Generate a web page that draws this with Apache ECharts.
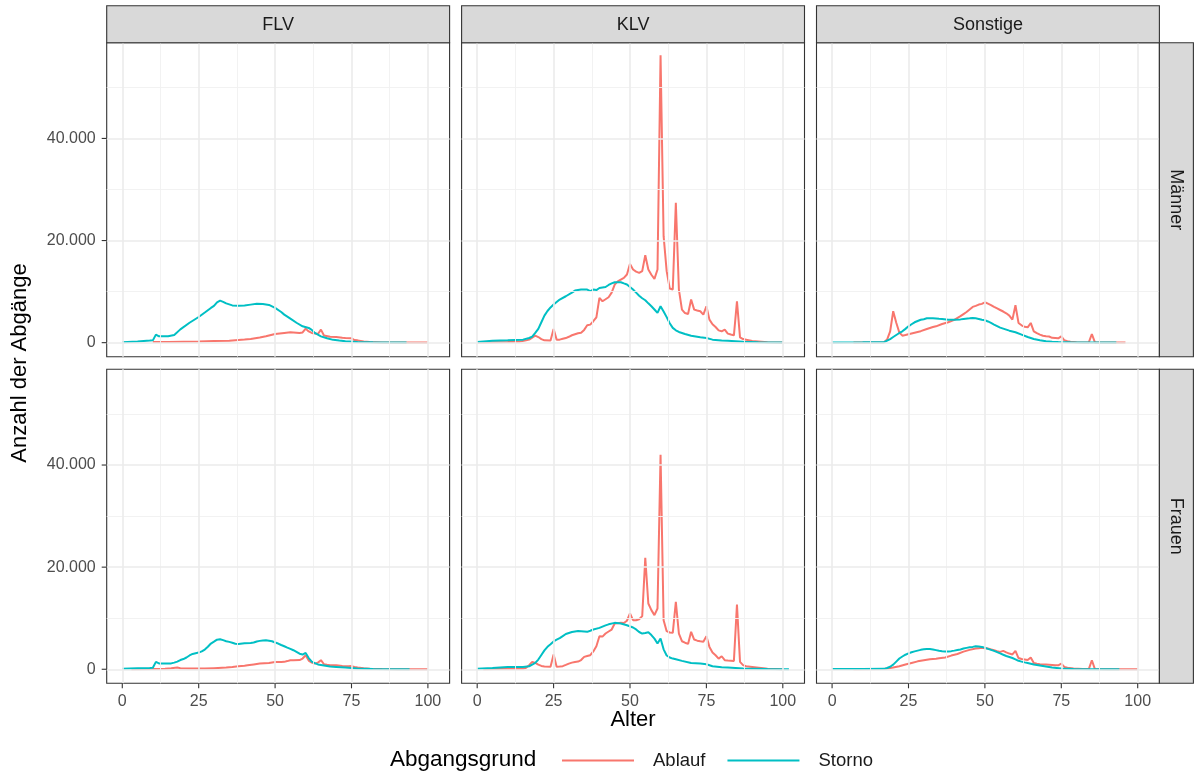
<!DOCTYPE html>
<html>
<head>
<meta charset="utf-8">
<script src="https://cdn.jsdelivr.net/npm/echarts@6/dist/echarts.min.js"></script>
<style>
html,body{margin:0;padding:0;background:#fff;}
#c{width:1194px;height:775px;}
</style>
</head>
<body>
<div id="c"></div>
<script>
// ---- DATA (age, number of exits) ----
const colLabels = ['FLV', 'KLV', 'Sonstige'];
const rowLabels = ['Männer', 'Frauen'];
const seriesNames = ['Ablauf', 'Storno'];
const xTicks = [0, 25, 50, 75, 100];
const yTicks = [0, 20000, 40000];

const flvMaennerAblauf = [[10,130],[15,150],[20,200],[25,250],[30,330],[35,390],[40,600],[42,720],[45,1000],[47,1240],[50,1700],[53,1900],[55,2030],[57,1950],[58,1900],[59,2000],[60,2750],[61,2200],[62,1900],[63,1800],[64,1700],[65,2550],[66,1400],[68,1150],[70,1100],[72,950],[73,900],[75,850],[76,500],[77,450],[79,250],[81,150],[85,50],[90,20],[100,20]];
const flvMaennerStorno = [[0,100],[5,250],[9,400],[10,450],[11,1570],[12,1250],[15,1250],[17,1500],[19,2600],[22,3900],[25,5030],[27,5900],[29,6800],[30,7200],[31,7900],[32,8240],[33,8000],[34,7700],[36,7300],[38,7250],[40,7300],[42,7450],[44,7600],[46,7550],[48,7390],[50,6800],[52,6000],[53,5490],[55,4700],[57,3900],[59,3200],[61,2880],[62,2500],[63,1900],[65,1240],[67,850],[69,550],[71,400],[73,260],[77,130],[82,60],[93,30]];

const klvMaennerAblauf = [[0,50],[5,100],[10,150],[14,200],[16,450],[17,590],[18,1000],[19,1370],[20,1100],[21,700],[22,450],[24,400],[25,2680],[26,590],[27,590],[28,750],[29,900],[30,1150],[31,1450],[32,1650],[33,1850],[34,1950],[35,2500],[36,3400],[37,3530],[38,4200],[39,4970],[40,8760],[41,8110],[42,8500],[43,8900],[44,9800],[45,11380],[46,12000],[47,12360],[48,12690],[49,13340],[50,15430],[51,14320],[52,13900],[53,13670],[54,14000],[55,17130],[56,14320],[57,13300],[58,12490],[59,14320],[60,56300],[61,20860],[62,14000],[63,10600],[64,10400],[65,27400],[66,10400],[67,6470],[68,5800],[69,5620],[70,8440],[71,6470],[72,6300],[73,6150],[74,5490],[75,7130],[76,4510],[77,3600],[78,3070],[79,2400],[80,2220],[81,2550],[82,1770],[83,1600],[84,1440],[85,8110],[86,1050],[87,700],[88,590],[90,350],[95,100],[100,30]];
const klvMaennerStorno = [[0,150],[5,350],[10,450],[15,590],[17,915],[18,1200],[19,1900],[20,2700],[21,4000],[22,5300],[23,6200],[24,6900],[25,7460],[27,8440],[29,9090],[31,9800],[32,10200],[34,10400],[36,10400],[37,10100],[38,10400],[39,10300],[40,10700],[42,10900],[43,11300],[44,11600],[45,11840],[47,11840],[48,11600],[49,11380],[50,10900],[51,10400],[52,9800],[53,9200],[54,8700],[55,8300],[56,7700],[57,7130],[58,6500],[59,5820],[60,7130],[61,6100],[62,5000],[63,3800],[64,2900],[65,2420],[66,2100],[67,1900],[68,1700],[70,1370],[73,1050],[75,915],[77,590],[80,430],[82,390],[87,200],[92,80],[100,20]];

const sonstMaennerAblauf = [[7,20],[17,80],[18,600],[19,2220],[20,6150],[21,3900],[22,2000],[23,1370],[24,1500],[25,1650],[27,1950],[29,2250],[31,2680],[33,3070],[34,3200],[36,3660],[38,3990],[40,4450],[42,5200],[43,5600],[44,6000],[45,6500],[46,7000],[47,7200],[48,7460],[49,7600],[50,7910],[51,7650],[52,7350],[53,7000],[54,6700],[55,6400],[56,6100],[57,5750],[58,5300],[59,4510],[60,7330],[61,3860],[62,3400],[63,3100],[64,3000],[65,3860],[66,2220],[67,1850],[68,1570],[69,1350],[70,1240],[71,1200],[72,950],[73,900],[74,850],[75,1240],[76,460],[77,300],[78,200],[80,100],[82,50],[84,40],[85,1700],[86,40],[90,20],[96,10]];
const sonstMaennerStorno = [[0,50],[10,60],[17,100],[18,400],[19,700],[20,1100],[21,1500],[22,1900],[23,2220],[24,2700],[25,3200],[26,3600],[27,3990],[28,4250],[29,4480],[30,4600],[31,4770],[33,4780],[35,4680],[36,4640],[38,4510],[40,4480],[42,4560],[43,4640],[45,4770],[46,4840],[47,4780],[48,4650],[49,4500],[50,4380],[51,4150],[52,3860],[53,3550],[54,3250],[55,2950],[56,2750],[57,2550],[58,2350],[60,2030],[62,1570],[64,1110],[66,720],[68,460],[70,280],[72,180],[74,120],[78,60],[85,30],[93,10]];

const flvFrauenAblauf = [[3,20],[10,40],[14,80],[16,200],[18,330],[19,200],[22,150],[27,130],[30,220],[34,330],[36,450],[38,590],[40,700],[41,785],[43,950],[45,1110],[48,1240],[50,1440],[52,1440],[53,1450],[54,1600],[55,1770],[56,1770],[58,1800],[59,2100],[60,2750],[61,1700],[62,1300],[63,1110],[64,1300],[65,1770],[66,980],[67,880],[68,785],[70,780],[72,650],[74,590],[75,620],[76,450],[77,330],[79,200],[81,120],[85,30],[90,10],[100,5]];
const flvFrauenStorno = [[0,80],[5,180],[9,260],[10,300],[11,1440],[12,1150],[14,1110],[16,1150],[17,1300],[18,1500],[19,1800],[20,2000],[21,2300],[22,2700],[23,3000],[24,3150],[25,3270],[26,3500],[27,3860],[28,4400],[29,5040],[30,5400],[31,5800],[32,5890],[33,5700],[34,5500],[35,5360],[36,5200],[37,5000],[38,4970],[40,5100],[42,5150],[43,5250],[44,5450],[45,5560],[46,5650],[47,5690],[48,5600],[49,5490],[50,5250],[51,5040],[52,4750],[53,4510],[54,4250],[55,4000],[56,3730],[57,3400],[58,3050],[59,2880],[60,3200],[61,2200],[62,1500],[63,1200],[64,950],[66,750],[68,550],[70,460],[73,330],[77,130],[82,50],[94,10]];

const klvFrauenAblauf = [[2,20],[10,80],[15,100],[16,300],[17,800],[18,1440],[19,1240],[20,900],[21,650],[22,550],[24,500],[25,2880],[26,500],[27,520],[28,600],[29,850],[30,1110],[31,1300],[32,1440],[33,1500],[34,1800],[35,2420],[36,2600],[37,2750],[38,3500],[39,4500],[40,6470],[41,6400],[42,7000],[43,7400],[44,7780],[45,8960],[46,9000],[47,9090],[48,9050],[49,9500],[50,10920],[51,9610],[52,9610],[53,9800],[54,10400],[55,21840],[56,12880],[57,11580],[58,10600],[59,11900],[60,41990],[61,9610],[62,7460],[63,7200],[64,7130],[65,13210],[66,7000],[67,5490],[68,5200],[69,4970],[70,7330],[71,5820],[72,5600],[73,5490],[74,5400],[75,6470],[76,4380],[77,3300],[78,2750],[79,2090],[80,2550],[81,1770],[82,1700],[84,1640],[85,12690],[86,1440],[87,800],[88,590],[90,450],[95,100],[100,20]];
const klvFrauenStorno = [[0,100],[5,260],[10,450],[15,460],[17,590],[18,900],[19,1240],[20,1900],[21,2800],[22,3700],[23,4400],[24,4900],[25,5450],[26,5800],[27,6100],[28,6500],[29,6900],[30,7100],[31,7300],[33,7500],[35,7400],[36,7330],[37,7550],[38,7780],[40,8110],[42,8600],[43,8800],[45,9090],[47,8960],[49,8630],[51,8180],[52,7800],[53,7300],[54,7000],[55,7100],[56,7260],[57,6700],[58,6000],[59,5040],[60,6020],[61,3900],[62,2700],[63,2300],[64,2090],[65,1950],[67,1640],[70,1240],[73,1110],[75,980],[77,590],[80,400],[82,330],[87,150],[95,50],[102,10]];

const sonstFrauenAblauf = [[7,10],[17,40],[18,150],[20,330],[22,600],[24,920],[26,1240],[28,1550],[30,1770],[32,1980],[34,2080],[35,2150],[37,2290],[39,2680],[41,3000],[43,3450],[45,3800],[47,4050],[48,4130],[49,4190],[50,4120],[51,4050],[52,3900],[53,3730],[54,3550],[55,3400],[56,3600],[57,3300],[58,3070],[59,2900],[60,3600],[61,2200],[62,2000],[63,1900],[64,1800],[65,2290],[66,1240],[67,1100],[68,1000],[70,950],[72,850],[73,785],[74,780],[75,1110],[76,460],[77,300],[79,130],[82,40],[84,30],[85,1770],[86,30],[90,15],[100,5]];
const sonstFrauenStorno = [[0,30],[10,40],[17,80],[18,250],[19,500],[20,900],[21,1500],[22,2100],[23,2500],[24,2850],[25,3100],[26,3340],[27,3500],[28,3650],[29,3800],[30,3900],[31,3990],[32,3950],[33,3860],[34,3750],[35,3620],[36,3540],[37,3470],[38,3480],[39,3550],[40,3650],[41,3780],[42,3880],[43,4050],[44,4190],[45,4300],[46,4380],[47,4510],[48,4450],[49,4380],[50,4200],[51,3990],[52,3800],[53,3600],[54,3350],[55,3100],[56,2850],[57,2600],[58,2400],[59,2200],[60,1950],[61,1650],[62,1500],[63,1350],[64,1240],[66,920],[69,650],[72,330],[75,150],[79,50],[85,20],[94,10]];

// panel order: row (Männer, Frauen) x column (FLV, KLV, Sonstige)
const panelData = [
  [flvMaennerAblauf, flvMaennerStorno],
  [klvMaennerAblauf, klvMaennerStorno],
  [sonstMaennerAblauf, sonstMaennerStorno],
  [flvFrauenAblauf, flvFrauenStorno],
  [klvFrauenAblauf, klvFrauenStorno],
  [sonstFrauenAblauf, sonstFrauenStorno]
];

// ---- LAYOUT ----
const colors = ['#F8766D', '#00BFC4'];
const FONT = '"Liberation Sans", Arial, sans-serif';
const panelLeft = [106.7, 461.6, 816.5];
const panelW = 342.9;
const panelTop = [42.7, 369.3];
const panelH = 314;
const stripTop = 5.7;
const stripRightW = 34;
const xMin = -5.1, xMax = 107.1;
const yMin = -2750, yMax = 58750;
const tickLen = 5;

const grids = [], xAxes = [], yAxes = [], series = [], graphics = [];

function fmt(v) {
  return String(v).replace(/\B(?=(\d{3})+(?!\d))/g, '.');
}

for (let r = 0; r < 2; r++) {
  for (let c = 0; c < 3; c++) {
    const i = r * 3 + c;
    grids.push({
      left: panelLeft[c], top: panelTop[r], width: panelW, height: panelH,
      show: true, backgroundColor: '#FFFFFF', borderColor: '#333333', borderWidth: 1.1,
      containLabel: false
    });
    xAxes.push({
      type: 'value', gridIndex: i, min: xMin, max: xMax, position: 'bottom',
      axisLine: { show: false, onZero: false },
      splitLine: { show: false },
      axisTick: { show: false },
      axisLabel: { show: r === 1, customValues: xTicks, color: '#4D4D4D', fontSize: 16, fontFamily: FONT, margin: 10 }
    });
    yAxes.push({
      type: 'value', gridIndex: i, min: yMin, max: yMax, position: 'left',
      axisLine: { show: false, onZero: false },
      splitLine: { show: false },
      axisTick: { show: false },
      axisLabel: { show: c === 0, customValues: yTicks, color: '#4D4D4D', fontSize: 16, fontFamily: FONT, margin: 11, formatter: fmt }
    });
    // grid lines (major + minor) drawn through the axes' own scales
    const major = { color: '#EBEBEB', width: 1.6, type: 'solid' };
    const minor = { color: '#F1F1F1', width: 0.9, type: 'solid' };
    const mk = [];
    [12.5, 37.5, 62.5, 87.5].forEach(v => mk.push({ xAxis: v, lineStyle: minor }));
    [10000, 30000, 50000].forEach(v => mk.push({ yAxis: v, lineStyle: minor }));
    xTicks.forEach(v => mk.push({ xAxis: v, lineStyle: major }));
    yTicks.forEach(v => mk.push({ yAxis: v, lineStyle: major }));
    series.push({
      type: 'line', xAxisIndex: i, yAxisIndex: i, data: [], silent: true, z: 0,
      markLine: { silent: true, symbol: ['none', 'none'], label: { show: false }, animation: false, data: mk }
    });
    for (let s = 0; s < 2; s++) {
      series.push({
        name: seriesNames[s], type: 'line', xAxisIndex: i, yAxisIndex: i,
        data: panelData[i][s], symbol: 'none', showSymbol: false, z: 2,
        lineStyle: { color: colors[s], width: 2 }, itemStyle: { color: colors[s] },
        clip: true
      });
    }
  }
}

// strips (top)
for (let c = 0; c < 3; c++) {
  graphics.push({
    type: 'rect', shape: { x: panelLeft[c], y: stripTop, width: panelW, height: panelTop[0] - stripTop },
    style: { fill: '#D9D9D9', stroke: '#333333', lineWidth: 1.1 }, z: 10
  });
  graphics.push({
    type: 'text', x: panelLeft[c] + panelW / 2, y: (stripTop + panelTop[0]) / 2 + 0.5,
    style: { text: colLabels[c], fill: '#1A1A1A', font: '18px ' + FONT, align: 'center', verticalAlign: 'middle' }, z: 11
  });
}
// strips (right)
const rightX = panelLeft[2] + panelW;
for (let r = 0; r < 2; r++) {
  graphics.push({
    type: 'rect', shape: { x: rightX, y: panelTop[r], width: stripRightW, height: panelH },
    style: { fill: '#D9D9D9', stroke: '#333333', lineWidth: 1.1 }, z: 10
  });
  graphics.push({
    type: 'text', x: rightX + stripRightW / 2, y: panelTop[r] + panelH / 2, rotation: -Math.PI / 2,
    style: { text: rowLabels[r], fill: '#1A1A1A', font: '18px ' + FONT, align: 'center', verticalAlign: 'middle' }, z: 11
  });
}
// axis titles
graphics.push({
  type: 'text', x: (panelLeft[0] + panelLeft[2] + panelW) / 2, y: 720,
  style: { text: 'Alter', fill: '#000000', font: '22px ' + FONT, align: 'center', verticalAlign: 'middle' }
});
graphics.push({
  type: 'text', x: 20, y: (panelTop[0] + panelTop[1] + panelH) / 2, rotation: Math.PI / 2,
  style: { text: 'Anzahl der Abgänge', fill: '#000000', font: '22px ' + FONT, align: 'center', verticalAlign: 'middle' }
});
// legend title
graphics.push({
  type: 'text', x: 390, y: 760,
  style: { text: 'Abgangsgrund', fill: '#000000', font: '22.5px ' + FONT, align: 'left', verticalAlign: 'middle' }
});

const chart = echarts.init(document.getElementById('c'), null, { renderer: 'canvas' });
chart.setOption({
  animation: false,
  backgroundColor: '#FFFFFF',
  grid: grids,
  xAxis: xAxes,
  yAxis: yAxes,
  series: series,
  graphic: graphics,
  legend: {
    data: seriesNames.map((n, k) => ({ name: n, icon: 'rect', itemStyle: { color: colors[k] } })),
    left: 562, top: 751, orient: 'horizontal', padding: 0,
    itemWidth: 72, itemHeight: 2, itemGap: 22,
    textStyle: { fontSize: 18.5, fontFamily: FONT, color: '#1A1A1A', padding: [0, 0, 0, 14] },
    selectedMode: false
  }
});

// axis ticks, positioned through the axes' own scales
const tickMarks = [];
for (let r = 0; r < 2; r++) {
  for (let c = 0; c < 3; c++) {
    const i = r * 3 + c;
    if (r === 1) {
      const yb = panelTop[r] + panelH;
      xTicks.forEach(v => {
        const px = chart.convertToPixel({ xAxisIndex: i }, v);
        tickMarks.push({ type: 'line', shape: { x1: px, y1: yb, x2: px, y2: yb + tickLen },
          style: { stroke: '#333333', lineWidth: 1.1 }, z: 12 });
      });
    }
    if (c === 0) {
      const xl = panelLeft[c];
      yTicks.forEach(v => {
        const py = chart.convertToPixel({ yAxisIndex: i }, v);
        tickMarks.push({ type: 'line', shape: { x1: xl - tickLen, y1: py, x2: xl, y2: py },
          style: { stroke: '#333333', lineWidth: 1.1 }, z: 12 });
      });
    }
  }
}
chart.setOption({ graphic: graphics.concat(tickMarks) });
</script>
</body>
</html>
